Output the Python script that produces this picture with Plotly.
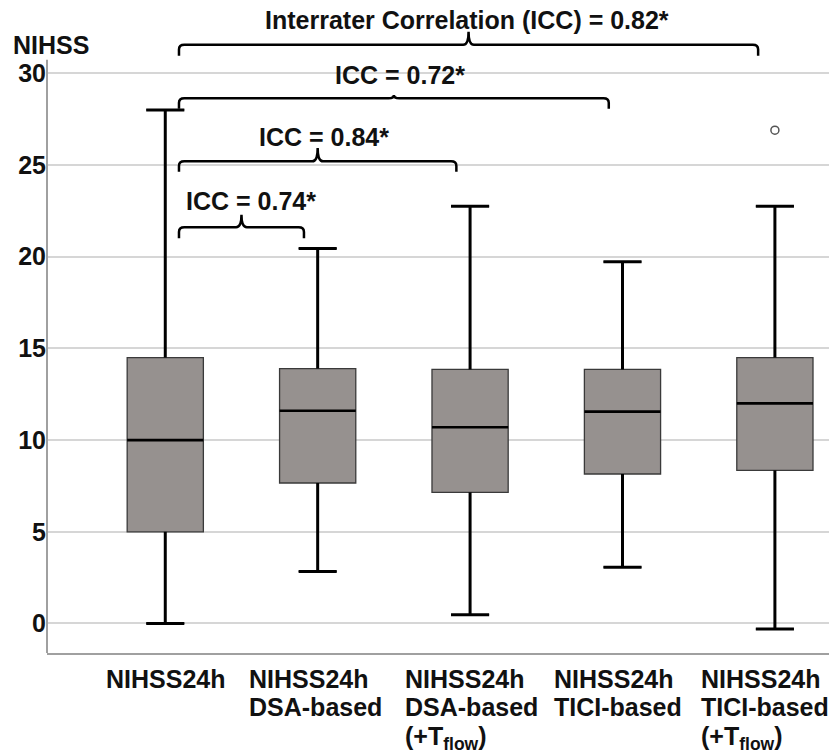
import plotly.graph_objects as go

# ---------------- data ----------------
categories = [
    "NIHSS24h",
    "NIHSS24h<br>DSA-based",
    "NIHSS24h<br>DSA-based<br>(+T<sub>flow</sub>)",
    "NIHSS24h<br>TICI-based",
    "NIHSS24h<br>TICI-based<br>(+T<sub>flow</sub>)",
]
q1 = [5.0, 7.66, 7.15, 8.15, 8.35]
median = [10.0, 11.6, 10.7, 11.55, 12.0]
q3 = [14.5, 13.9, 13.85, 13.85, 14.5]
lower_fence = [0.0, 2.84, 0.48, 3.07, -0.3]
upper_fence = [28.0, 20.45, 22.75, 19.72, 22.75]
outlier_group = [4]
outlier_value = [26.9]

y_ticks = [0, 5, 10, 15, 20, 25, 30]

# ICC comparisons (reference group index, compared group index, label)
icc_pairs = [(0, 1), (0, 2), (0, 3), (0, 4)]
icc_labels = ["ICC = 0.74*", "ICC = 0.84*", "ICC = 0.72*",
              "Interrater Correlation (ICC) = 0.82*"]

# ---------------- style / layout constants ----------------
FONT = "Liberation Sans, Arial, sans-serif"
FILL = "#96918f"
X_RANGE = [-0.776, 4.355]
Y_RANGE = [-1.61, 33.56]
AXIS_TOP = 30.74
BOX_W = 0.5
CAP_HALF = 0.125

# bracket vertical levels: (line level, end level, tick level, text level)
bracket_levels = [
    (21.6, 21.0, 22.28, 23.03),
    (25.2, 24.63, 25.93, 26.52),
    (28.64, 28.06, 28.82, 29.91),
    (31.55, 30.95, 32.26, 32.9),
]
bracket_text_dx = [0.06, 0.04, 0.04, -0.01]
# left edge of each category label block, relative to its box centre
label_left_offset = [-0.402, -0.464, -0.44, -0.465, -0.497]
LABEL_TOP = 10
LABEL_LINE = 28.3

n = len(categories)
pos = list(range(n))

fig = go.Figure()

# boxes
fig.add_trace(go.Box(
    x=pos, q1=q1, median=median, q3=q3,
    lowerfence=lower_fence, upperfence=upper_fence,
    width=BOX_W, whiskerwidth=0.5,
    fillcolor=FILL, line=dict(color="#3a3a3a", width=1.3),
    boxpoints=False, showlegend=False, hoverinfo="skip",
))

# thick whiskers + caps + medians
wx, wy = [], []
for i in pos:
    wx += [i, i, None, i, i, None,
           i - CAP_HALF, i + CAP_HALF, None, i - CAP_HALF, i + CAP_HALF, None]
    wy += [q3[i], upper_fence[i], None, q1[i], lower_fence[i], None,
           upper_fence[i], upper_fence[i], None, lower_fence[i], lower_fence[i], None]
fig.add_trace(go.Scatter(x=wx, y=wy, mode="lines",
                         line=dict(color="#000000", width=3),
                         showlegend=False, hoverinfo="skip"))
mx, my = [], []
for i in pos:
    mx += [i - BOX_W / 2, i + BOX_W / 2, None]
    my += [median[i], median[i], None]
fig.add_trace(go.Scatter(x=mx, y=my, mode="lines",
                         line=dict(color="#000000", width=2.6),
                         showlegend=False, hoverinfo="skip"))

# outlier
fig.add_trace(go.Scatter(x=outlier_group, y=outlier_value, mode="markers",
                         marker=dict(symbol="circle-open", size=8,
                                     color="#555555", line=dict(width=1.5)),
                         showlegend=False, hoverinfo="skip"))

shapes = []
# left axis line
shapes.append(dict(type="line", xref="paper", yref="y", x0=0, x1=0,
                   y0=Y_RANGE[0], y1=AXIS_TOP,
                   line=dict(color="#a0a0a0", width=2)))

annotations = []
bold = dict(family=FONT, size=25, color="#111111", weight="bold")

# brackets
r = 0.035
for k, ((a, b), lab) in enumerate(zip(icc_pairs, icc_labels)):
    yl, ye, yt, ytx = bracket_levels[k]
    x0 = a + 0.09
    x1 = b - 0.09 if b < 4 else b - 0.11
    xc = (x0 + x1) / 2
    path = (f"M {x0},{ye} L {x0},{yl - 0.25} Q {x0},{yl} {x0 + r},{yl} "
            f"L {xc - r},{yl} Q {xc},{yl} {xc},{yt} Q {xc},{yl} {xc + r},{yl} "
            f"L {x1 - r},{yl} Q {x1},{yl} {x1},{yl - 0.25} L {x1},{ye}")
    shapes.append(dict(type="path", xref="x", yref="y", path=path,
                       line=dict(color="#000000", width=2.5)))
    annotations.append(dict(x=xc + bracket_text_dx[k], y=ytx, xref="x", yref="y",
                            text=lab, showarrow=False, xanchor="center",
                            yanchor="middle", font=bold))

# category labels: left-aligned lines under each box
for i, cat in enumerate(categories):
    lines = cat.split("<br>")
    single = len(lines) == 1
    for j, line in enumerate(lines):
        annotations.append(dict(
            x=i if single else i + label_left_offset[i], y=0,
            xref="x", yref="paper", text=line, showarrow=False,
            xanchor="center" if single else "left", yanchor="top",
            yshift=-(LABEL_TOP + j * LABEL_LINE), font=bold))

# y-axis title
annotations.append(dict(x=0.005, y=0.943, xref="paper", yref="paper",
                        text="NIHSS", showarrow=False, xanchor="center",
                        yanchor="middle", font=bold))

fig.update_layout(
    width=829, height=756,
    margin=dict(l=47, r=0, t=8, b=103),
    paper_bgcolor="white", plot_bgcolor="white",
    shapes=shapes, annotations=annotations,
    showlegend=False,
    xaxis=dict(range=X_RANGE, showgrid=False, zeroline=False,
               showticklabels=False, ticks="",
               showline=True, linecolor="#a0a0a0", linewidth=2),
    yaxis=dict(range=Y_RANGE, tickvals=y_ticks,
               ticktext=[str(v) for v in y_ticks],
               showgrid=True, gridcolor="#d6d6d6", gridwidth=1.5,
               zeroline=False, showline=False, ticks="",
               tickfont=bold),
)

fig.write_html("out.html")
